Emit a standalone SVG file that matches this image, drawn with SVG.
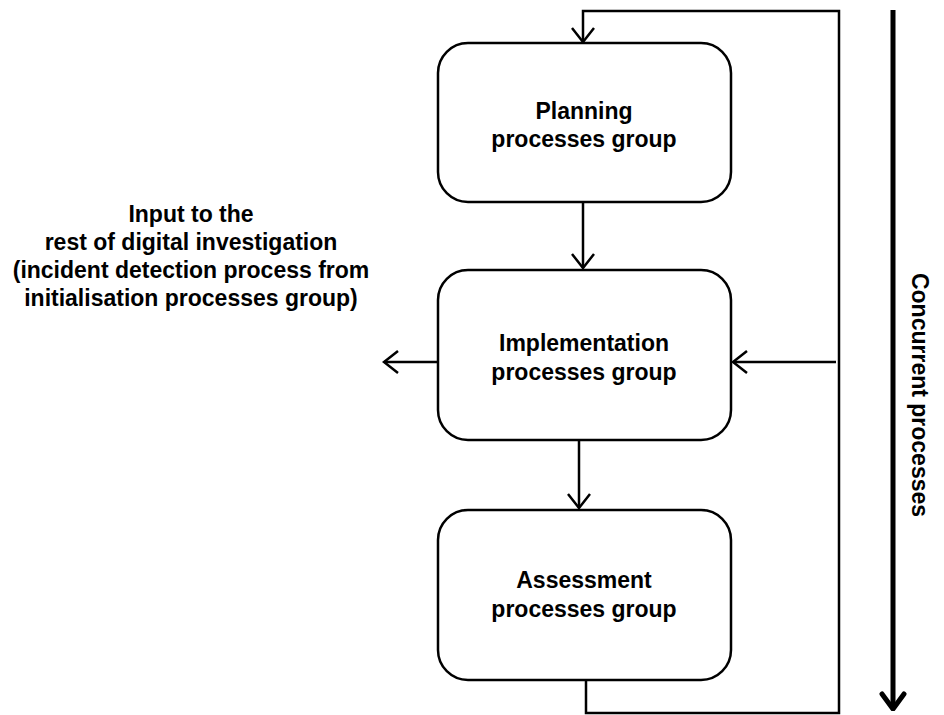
<svg xmlns="http://www.w3.org/2000/svg" width="944" height="715" viewBox="0 0 944 715">
<style>
.box{fill:#fff;stroke:#000;stroke-width:2.5}
.ln{fill:none;stroke:#000;stroke-width:2.5}
.t{font-family:"Liberation Sans",Arial,sans-serif;font-weight:bold;font-size:23px;fill:#000;text-anchor:middle}
</style>
<defs>
<marker id="ah" viewBox="-16 -12 18 24" markerWidth="18" markerHeight="24" refX="0" refY="0" orient="auto" markerUnits="userSpaceOnUse">
<path d="M-14,-11 L0,0 L-14,11" fill="none" stroke="#000" stroke-width="2.5"/>
</marker>
<marker id="bh" viewBox="-20 -14 22 28" markerWidth="22" markerHeight="28" refX="0" refY="0" orient="auto" markerUnits="userSpaceOnUse">
<path d="M-15,-11 L0,0 L-15,11" fill="none" stroke="#000" stroke-width="5" stroke-linecap="round" stroke-linejoin="round"/>
</marker>
</defs>
<rect width="944" height="715" fill="#fff"/>
<g id="connectors">
<path class="ln" d="M586,680 V713 H839 V11 H583 V42" marker-end="url(#ah)"/>
<path class="ln" d="M583,202 V268" marker-end="url(#ah)"/>
<path class="ln" d="M836,362 H733" marker-end="url(#ah)"/>
<path class="ln" d="M438,362 H384" marker-end="url(#ah)"/>
<path class="ln" d="M579,440 V508" marker-end="url(#ah)"/>
<path d="M893,10 V709" fill="none" stroke="#000" stroke-width="5" marker-end="url(#bh)"/>
</g>
<g id="planning">
<rect class="box" x="438" y="43" width="293" height="159" rx="30"/>
<text class="t" x="584" y="119">Planning</text>
<text class="t" x="584" y="147">processes group</text>
</g>
<g id="implementation">
<rect class="box" x="438" y="270" width="293" height="170" rx="30"/>
<text class="t" x="584" y="351">Implementation</text>
<text class="t" x="584" y="380">processes group</text>
</g>
<g id="assessment">
<rect class="box" x="438" y="510" width="293" height="170" rx="30"/>
<text class="t" x="584" y="588">Assessment</text>
<text class="t" x="584" y="617">processes group</text>
</g>
<g id="input-label">
<text class="t" x="191" y="222">Input to the</text>
<text class="t" x="191" y="250">rest of digital investigation</text>
<text class="t" x="191" y="278">(incident detection process from</text>
<text class="t" x="191" y="306">initialisation processes group)</text>
</g>
<g id="concurrent-label">
<text class="t" transform="translate(912,395) rotate(90)" x="0" y="0">Concurrent processes</text>
</g>
</svg>
